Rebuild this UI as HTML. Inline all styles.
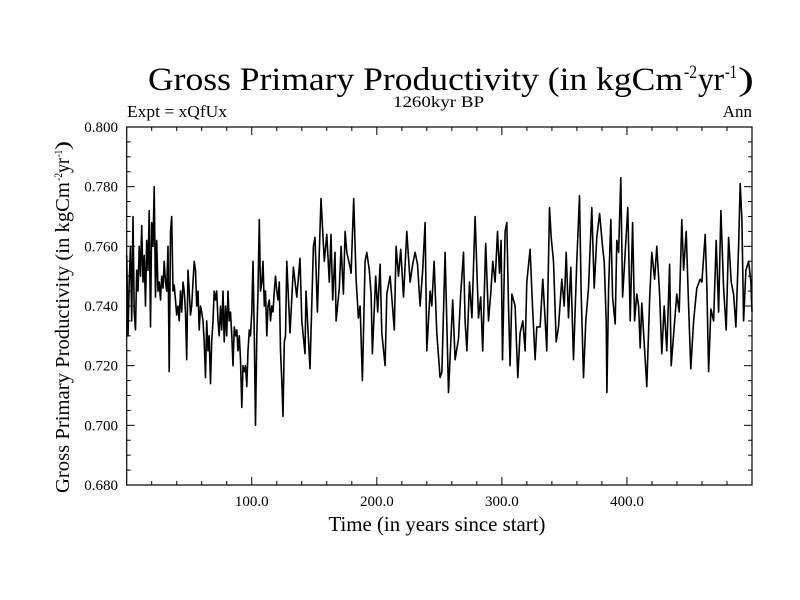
<!DOCTYPE html>
<html><head><meta charset="utf-8"><style>
html,body{margin:0;padding:0;background:#fff;}
svg{display:block;font-family:"Liberation Serif",serif;}
</style></head><body>
<svg id="chart" width="800" height="600" viewBox="0 0 800 600" xmlns="http://www.w3.org/2000/svg">
<g>
<text x="148" y="90" font-size="33" textLength="535" lengthAdjust="spacingAndGlyphs">Gross Primary Productivity (in kgCm</text>
<text x="684" y="78" font-size="19" textLength="13" lengthAdjust="spacingAndGlyphs">-2</text>
<text x="698" y="90" font-size="33" textLength="26" lengthAdjust="spacingAndGlyphs">yr</text>
<text x="725" y="78" font-size="19" textLength="12" lengthAdjust="spacingAndGlyphs">-1</text>
<text x="738" y="90" font-size="33" textLength="16" lengthAdjust="spacingAndGlyphs">)</text>
</g>
<text x="393" y="107" font-size="16" textLength="91" lengthAdjust="spacingAndGlyphs">1260kyr BP</text>
<text x="127" y="117" font-size="17" textLength="100" lengthAdjust="spacingAndGlyphs">Expt = xQfUx</text>
<text x="752" y="117" font-size="17" text-anchor="end">Ann</text>
<g transform="translate(69,493) rotate(-90)">
<text x="0" y="0" font-size="20" textLength="311" lengthAdjust="spacingAndGlyphs">Gross Primary Productivity (in kgCm</text>
<text x="312" y="-7" font-size="12" textLength="8" lengthAdjust="spacingAndGlyphs">-2</text>
<text x="320" y="0" font-size="20" textLength="15" lengthAdjust="spacingAndGlyphs">yr</text>
<text x="336" y="-7" font-size="12" textLength="7" lengthAdjust="spacingAndGlyphs">-1</text>
<text x="343" y="0" font-size="20" textLength="9" lengthAdjust="spacingAndGlyphs">)</text>
</g>
<text x="437" y="531" font-size="21" text-anchor="middle" textLength="217" lengthAdjust="spacingAndGlyphs">Time (in years since start)</text>
<g id="ticks"></g>
<path id="line" fill="none" stroke="#000" stroke-width="1.6" stroke-linejoin="round"/>
<rect x="126.7" y="127" width="625.3" height="358" fill="none" stroke="#000" stroke-width="1.2"/>
</svg>
<script>
const years = [0,1,2,3,4,5,6,7,8,9,10,11,12,13,14,15,16,17,18,19,20,21,22,23,24,25,26,27,28,29,30,31,32,33,34,35,36,37,38,39,40,41,42,43,44,45,46,47,48,49,50,51,52,53,54,55,56,57,58,59,60,61,62,63,64,65,66,67,68,69,70,71,72,73,74,75,76,77,78,79,80,81,82,83,84,85,86,87,88,89,90,91,92,93,94,95,96,97,98,99,100,101,102,103,104,105,106,107,108,109,110,111,112,113,114,115,116,117,118,119,120,121,122,123,124,125,126,127,128,
130.6,133.3,136,138.6,140,142.6,143.4,146.6,149.3,150.6,152.5,155.4,158,160,162,163.4,164.7,166.6,167.4,170,171.4,173.3,174.6,176,178.6,179.4,181.5,183.4,185.3,186.6,188.5,190.6,192,194,195.4,196.5,199.1,200.7,202.6,204,206.6,208,210.6,212.7,214,215.4,217.3,219.1,221.3,224,226.6,228.7,230.6,232.5,234.6,236.7,238.6,240,242.6,244,245.8,248,250.6,252,254.6,257.3,
260.7,262.6,265.3,267.1,269.3,270.6,272,274.1,276,278.6,281.3,283.1,284.7,287.1,289.3,291.1,292.7,294.6,296.5,298.1,299.4,300.5,302.6,303.9,305.3,306.6,308,310.6,312.7,314.6,316.7,318.6,319.9,322.6,324.5,326.6,327.9,330.6,332.7,334.6,335.9,338.1,339.4,341.3,343.4,345.3,347.9,349.8,351.4,353.3,355.1,357.3,359.9,362.1,363.4,365.3,367.1,369.3,371.9,373.8,375.9,378.1,
380.7,381.8,383.4,384,385.3,387.1,388.5,390.6,391.9,393.3,395.1,396.5,398.6,400.7,402.6,404.5,406.1,407.9,409.3,410.6,411.9,413.3,415.9,418.1,419.9,422.1,423.9,426.1,427.9,429.8,431.9,434.1,435.4,437.8,439.9,441.8,443.9,445.3,447.4,449.3,451.1,453.3,455.9,458.6,459.9,462.6,463.9,465.3,467.1,469.3,471.4,473.3,475.1,477.3,479.4,481.3,483.4,485.3,487.1,489.3,490.6,491.9,493.3,495.1,497.3,499.1,500];
const gpp = [0.757,0.730,0.748,0.760,0.735,0.770,0.738,0.732,0.752,0.745,0.760,0.750,0.767,0.748,0.757,0.740,0.762,0.752,0.772,0.733,0.768,0.760,0.780,0.743,0.762,0.745,0.748,0.742,0.750,0.746,0.755,0.748,0.745,0.760,0.718,0.765,0.770,0.745,0.747,0.742,0.737,0.740,0.735,0.745,0.738,0.748,0.745,0.738,0.722,0.752,0.745,0.737,0.740,0.748,0.755,0.752,0.740,0.745,0.732,0.740,0.738,0.735,0.728,0.716,0.735,0.725,0.730,0.714,0.728,0.735,0.745,0.742,0.745,0.735,0.730,0.740,0.732,0.745,0.728,0.740,0.730,0.745,0.735,0.738,0.730,0.720,0.733,0.730,0.732,0.725,0.730,0.722,0.706,0.720,0.718,0.720,0.713,0.725,0.732,0.730,0.738,0.755,0.730,0.700,0.730,0.745,0.769,0.745,0.748,0.755,0.740,0.745,0.730,0.740,0.742,0.735,0.740,0.738,0.745,0.750,0.745,0.742,0.748,0.725,0.715,0.703,0.728,0.730,0.755,
0.731,0.753,0.743,0.756,0.735,0.724,0.745,0.719,0.760,0.763,0.738,0.776,0.755,0.764,0.748,0.764,0.742,0.758,0.735,0.746,0.760,0.744,0.765,0.758,0.753,0.751,0.776,0.749,0.736,0.740,0.715,0.755,0.758,0.752,0.744,0.724,0.750,0.738,0.754,0.731,0.720,0.744,0.750,0.739,0.732,0.760,0.750,0.759,0.743,0.765,0.748,0.754,0.758,0.754,0.740,0.752,0.768,0.725,0.745,0.740,0.755,0.731,0.716,0.718,0.758,0.711,
0.742,0.722,0.729,0.744,0.758,0.735,0.725,0.748,0.736,0.770,0.736,0.743,0.725,0.761,0.735,0.744,0.755,0.748,0.765,0.751,0.762,0.722,0.765,0.768,0.740,0.720,0.744,0.740,0.716,0.731,0.735,0.725,0.748,0.759,0.740,0.722,0.733,0.733,0.749,0.735,0.725,0.773,0.763,0.755,0.728,0.733,0.749,0.740,0.758,0.736,0.753,0.722,0.755,0.777,0.744,0.716,0.735,0.746,0.773,0.746,0.763,0.771,
0.759,0.755,0.735,0.711,0.746,0.769,0.743,0.734,0.762,0.758,0.783,0.743,0.758,0.773,0.735,0.768,0.735,0.744,0.740,0.726,0.741,0.731,0.713,0.742,0.758,0.749,0.760,0.744,0.724,0.740,0.725,0.754,0.720,0.733,0.744,0.738,0.769,0.752,0.765,0.740,0.719,0.735,0.746,0.749,0.748,0.764,0.746,0.718,0.739,0.735,0.762,0.738,0.772,0.746,0.732,0.763,0.748,0.744,0.733,0.760,0.781,0.769,0.735,0.752,0.755,0.748,0.738];
const xTickValues = [100,200,300,400];
const xTickLabels = ["100.0","200.0","300.0","400.0"];
const yTickValues = [0.68,0.70,0.72,0.74,0.76,0.78,0.80];
const yTickLabels = ["0.680","0.700","0.720","0.740","0.760","0.780","0.800"];

const L=126.7,R=752,T=127,B=485,X0=0,X1=500,Y0=0.68,Y1=0.80;
const sx=v=>L+(v-X0)/(X1-X0)*(R-L);
const sy=v=>B-(v-Y0)/(Y1-Y0)*(B-T);
const NS='http://www.w3.org/2000/svg';
const g=document.getElementById('ticks');
function ln(x1,y1,x2,y2){const e=document.createElementNS(NS,'line');e.setAttribute('x1',x1);e.setAttribute('y1',y1);e.setAttribute('x2',x2);e.setAttribute('y2',y2);e.setAttribute('stroke','#000');e.setAttribute('stroke-width','1');g.appendChild(e);return e;}
for(let v=20;v<500;v+=20){const x=sx(v);const maj=v%100===0;const len=maj?8:4;
 let a=ln(x,B,x,B-len);
 
 
 let b=ln(x,T,x,T+len);
 
 }
for(let i=0;i<=24;i++){const v=Y0+i*0.005;const y=sy(v);const maj=i%4===0;const len=maj?8:4;
 let a=ln(L,y,L+len,y);
 
 
 let b=ln(R,y,R-len,y);
 
 }
xTickValues.forEach((v,i)=>{const t=document.createElementNS(NS,'text');
 
 
 t.setAttribute('x',sx(v));t.setAttribute('y',506);t.setAttribute('font-size','15');t.setAttribute('text-anchor','middle');t.textContent=xTickLabels[i];g.appendChild(t);});
yTickValues.forEach((v,i)=>{const t=document.createElementNS(NS,'text');
 
 
 t.setAttribute('x',118);t.setAttribute('y',sy(v)+5);t.setAttribute('font-size','15');t.setAttribute('text-anchor','end');t.textContent=yTickLabels[i];g.appendChild(t);});
let d='';years.forEach((yr,i)=>{d+=(i?'L':'M')+sx(yr).toFixed(1)+' '+sy(gpp[i]).toFixed(1);});
document.getElementById('line').setAttribute('d',d);
</script>
</body></html>
